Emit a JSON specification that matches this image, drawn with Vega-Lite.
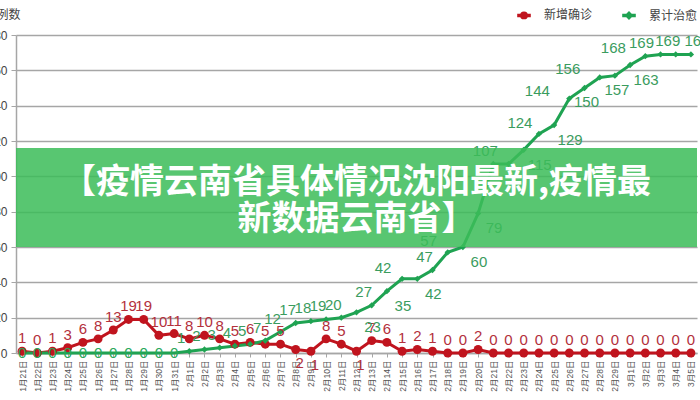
{
  "$schema": "https://vega.github.io/schema/vega-lite/v6.json",
  "width": 681,
  "height": 318,
  "autosize": {"type": "none"},
  "padding": {"left": 16, "top": 35, "right": 3, "bottom": 47},
  "background": "white",
  "config": {
    "view": {"stroke": null},
    "font": "Liberation Sans, Noto Sans CJK SC",
    "text": {"font": "Liberation Sans, Noto Sans CJK SC"}
  },
  "datasets": {
    "main": [
      {"d": "1月21日", "新增确诊": 1, "累计治愈": 0},
      {"d": "1月22日", "新增确诊": 0, "累计治愈": 0},
      {"d": "1月23日", "新增确诊": 1, "累计治愈": 0},
      {"d": "1月24日", "新增确诊": 3, "累计治愈": 0},
      {"d": "1月25日", "新增确诊": 6, "累计治愈": 0},
      {"d": "1月26日", "新增确诊": 8, "累计治愈": 0},
      {"d": "1月27日", "新增确诊": 13, "累计治愈": 0},
      {"d": "1月28日", "新增确诊": 19, "累计治愈": 0},
      {"d": "1月29日", "新增确诊": 19, "累计治愈": 0},
      {"d": "1月30日", "新增确诊": 10, "累计治愈": 0},
      {"d": "1月31日", "新增确诊": 11, "累计治愈": 0},
      {"d": "2月1日", "新增确诊": 8, "累计治愈": 1},
      {"d": "2月2日", "新增确诊": 10, "累计治愈": 2},
      {"d": "2月3日", "新增确诊": 8, "累计治愈": 3},
      {"d": "2月4日", "新增确诊": 5, "累计治愈": 4},
      {"d": "2月5日", "新增确诊": 6, "累计治愈": 5},
      {"d": "2月6日", "新增确诊": 5, "累计治愈": 7},
      {"d": "2月7日", "新增确诊": 5, "累计治愈": 12},
      {"d": "2月8日", "新增确诊": 2, "累计治愈": 17},
      {"d": "2月9日", "新增确诊": 1, "累计治愈": 18},
      {"d": "2月10日", "新增确诊": 8, "累计治愈": 19},
      {"d": "2月11日", "新增确诊": 5, "累计治愈": 20},
      {"d": "2月12日", "新增确诊": 1, "累计治愈": 23},
      {"d": "2月13日", "新增确诊": 7, "累计治愈": 27},
      {"d": "2月14日", "新增确诊": 6, "累计治愈": 35},
      {"d": "2月15日", "新增确诊": 1, "累计治愈": 42},
      {"d": "2月16日", "新增确诊": 2, "累计治愈": 42},
      {"d": "2月17日", "新增确诊": 1, "累计治愈": 47},
      {"d": "2月18日", "新增确诊": 0, "累计治愈": 57},
      {"d": "2月19日", "新增确诊": 0, "累计治愈": 60},
      {"d": "2月20日", "新增确诊": 2, "累计治愈": 79},
      {"d": "2月21日", "新增确诊": 0, "累计治愈": 107},
      {"d": "2月22日", "新增确诊": 0, "累计治愈": 107},
      {"d": "2月23日", "新增确诊": 0, "累计治愈": 115},
      {"d": "2月24日", "新增确诊": 0, "累计治愈": 124},
      {"d": "2月25日", "新增确诊": 0, "累计治愈": 129},
      {"d": "2月26日", "新增确诊": 0, "累计治愈": 144},
      {"d": "2月27日", "新增确诊": 0, "累计治愈": 150},
      {"d": "2月28日", "新增确诊": 0, "累计治愈": 156},
      {"d": "2月29日", "新增确诊": 0, "累计治愈": 157},
      {"d": "3月1日", "新增确诊": 0, "累计治愈": 163},
      {"d": "3月2日", "新增确诊": 0, "累计治愈": 168},
      {"d": "3月3日", "新增确诊": 0, "累计治愈": 169},
      {"d": "3月4日", "新增确诊": 0, "累计治愈": 169},
      {"d": "3月5日", "新增确诊": 0, "累计治愈": 169}
    ],
    "banner": [
      {"t": "【疫情云南省具体情况沈阳最新,疫情最\n新数据云南省】"}
    ]
  },
  "encoding": {
    "x": {
      "field": "d",
      "type": "ordinal",
      "sort": null,
      "scale": {"type": "point", "padding": 0.4},
      "axis": {
        "title": null,
        "labelAngle": -90,
        "labelFontSize": 8.5,
        "labelColor": "#555555",
        "labelPadding": 3,
        "domainColor": "#a6a6a6",
        "domainWidth": 1.5,
        "tickColor": "#a6a6a6",
        "tickSize": 4,
        "grid": false
      }
    },
    "y": {
      "type": "quantitative",
      "scale": {"domain": [0, 180], "nice": false},
      "axis": {
        "title": "例数",
        "titleAngle": 0,
        "titleAlign": "left",
        "titleBaseline": "middle",
        "titleX": -20,
        "titleY": -21,
        "titleFontSize": 12,
        "titleFontWeight": "normal",
        "titleColor": "#444444",
        "titleFont": "Noto Sans CJK SC",
        "values": [0, 20, 40, 60, 80, 100, 120, 140, 160, 180],
        "labelFontSize": 12,
        "labelColor": "#444444",
        "labelPadding": 4,
        "gridColor": "#a6a6a6",
        "gridWidth": 1.5,
        "domainColor": "#a6a6a6",
        "domainWidth": 1.5,
        "tickColor": "#a6a6a6",
        "tickSize": 5
      }
    }
  },
  "layer": [
    {
      "data": {"name": "main"},
      "transform": [{"fold": ["新增确诊", "累计治愈"], "as": ["series", "v"]}],
      "mark": {"type": "line", "strokeWidth": 3},
      "encoding": {
        "y": {"field": "v"},
        "color": {
          "field": "series",
          "type": "nominal",
          "scale": {"domain": ["新增确诊", "累计治愈"], "range": ["#c0141e", "#1fa352"]},
          "legend": {
            "title": null,
            "orient": "none",
            "legendX": 502,
            "legendY": -26,
            "direction": "horizontal",
            "labelFont": "Noto Sans CJK SC",
            "labelFontSize": 12,
            "labelColor": "#444444",
            "columnPadding": 22,
            "symbolSize": 64,
            "symbolStrokeWidth": 3.5,
            "symbolType": "M-1.7,0L1.7,0M-0.5,0A0.5,0.5 0 1,1 0.5,0A0.5,0.5 0 1,1 -0.5,0Z",
            "labelOffset": 14,
            "encode": {
              "symbols": {
                "update": {
                  "shape": {"signal": "datum.value == '新增确诊' ? 'M-1.7,0L1.7,0M-0.55,0A0.55,0.55 0 1,1 0.55,0A0.55,0.55 0 1,1 -0.55,0Z' : 'M-1.7,0L1.7,0M0,-0.5L0.5,0L0,0.5L-0.5,0Z'"},
                  "stroke": {"signal": "datum.value == '新增确诊' ? '#c0141e' : '#1fa352'"},
                  "fill": {"signal": "datum.value == '新增确诊' ? '#c0141e' : '#1fa352'"},
                  "strokeWidth": {"value": 3.5},
                  "opacity": {"value": 1}
                }
              }
            }
          }
        }
      }
    },
    {
      "data": {"name": "main"},
      "transform": [
        {"fold": ["新增确诊", "累计治愈"], "as": ["series", "v"]},
        {"filter": "datum.series == '新增确诊' || datum.v > 0"}
      ],
      "mark": {"type": "point", "filled": true, "opacity": 1},
      "encoding": {
        "y": {"field": "v"},
        "color": {
          "field": "series",
          "type": "nominal",
          "scale": {"domain": ["新增确诊", "累计治愈"], "range": ["#c0141e", "#1fa352"]}
        },
        "shape": {
          "condition": {"test": "datum.series == '累计治愈'", "value": "diamond"},
          "value": "circle"
        },
        "size": {
          "condition": {"test": "datum.series == '累计治愈'", "value": 40},
          "value": 80
        }
      }
    },
    {
      "data": {"name": "main"},
      "transform": [{"filter": {"not": {"field": "d", "oneOf": ["2月8日", "2月9日", "2月12日"]}}}],
      "mark": {"type": "text", "dy": -13, "fontSize": 15, "color": "#b3303c"},
      "encoding": {"y": {"field": "新增确诊"}, "text": {"field": "新增确诊"}}
    },
    {
      "data": {"name": "main"},
      "transform": [{"filter": {"field": "d", "oneOf": ["2月8日", "2月9日", "2月12日"]}}],
      "mark": {"type": "text", "dy": 14, "dx": 4, "fontSize": 15, "color": "#b3303c"},
      "encoding": {"y": {"field": "新增确诊"}, "text": {"field": "新增确诊"}}
    },
    {
      "data": {"name": "main"},
      "transform": [
        {"filter": "datum['累计治愈'] > 0"},
        {"filter": {"not": {"field": "d", "oneOf": ["2月12日", "2月14日", "2月16日", "2月19日", "2月20日", "2月23日", "2月25日", "2月27日", "2月29日", "3月1日", "2月15日", "2月18日", "2月22日", "3月3日", "2月24日", "2月26日", "2月28日", "3月2日", "3月5日"]}}}
      ],
      "mark": {"type": "text", "dy": -13, "dx": -8, "fontSize": 15, "color": "#3a9c5e"},
      "encoding": {"y": {"field": "累计治愈"}, "text": {"field": "累计治愈"}}
    },
    {
      "data": {"name": "main"},
      "transform": [{"filter": {"field": "d", "oneOf": ["2月15日", "2月18日", "2月24日", "3月3日"]}}],
      "mark": {"type": "text", "dy": -11, "dx": -19, "fontSize": 15, "color": "#3a9c5e"},
      "encoding": {"y": {"field": "累计治愈"}, "text": {"field": "累计治愈"}}
    },
    {
      "data": {"name": "main"},
      "transform": [{"filter": {"field": "d", "oneOf": ["2月26日", "2月28日", "3月2日"]}}],
      "mark": {"type": "text", "dy": -8, "dx": -32, "fontSize": 15, "color": "#3a9c5e"},
      "encoding": {"y": {"field": "累计治愈"}, "text": {"field": "累计治愈"}}
    },
    {
      "data": {"name": "main"},
      "transform": [{"filter": {"field": "d", "oneOf": ["3月5日"]}}],
      "mark": {"type": "text", "dy": -13, "dx": 6, "fontSize": 15, "color": "#3a9c5e"},
      "encoding": {"y": {"field": "累计治愈"}, "text": {"field": "累计治愈"}}
    },
    {
      "data": {"name": "main"},
      "transform": [
        {"filter": {"field": "d", "oneOf": ["2月12日", "2月14日", "2月16日", "2月19日", "2月20日", "2月23日", "2月25日", "3月1日"]}}
      ],
      "mark": {"type": "text", "dy": 15, "dx": 16, "fontSize": 15, "color": "#3a9c5e"},
      "encoding": {"y": {"field": "累计治愈"}, "text": {"field": "累计治愈"}}
    },
    {
      "data": {"name": "main"},
      "transform": [{"filter": {"field": "d", "oneOf": ["2月27日", "2月29日"]}}],
      "mark": {"type": "text", "dy": 14, "dx": 2, "fontSize": 15, "color": "#3a9c5e"},
      "encoding": {"y": {"field": "累计治愈"}, "text": {"field": "累计治愈"}}
    },
    {
      "data": {"name": "main"},
      "transform": [{"filter": "datum['累计治愈'] == 0"}],
      "mark": {"type": "text", "fontSize": 15, "color": "#2aa85a", "baseline": "middle"},
      "encoding": {"y": {"field": "累计治愈"}, "text": {"field": "累计治愈"}}
    },
    {
      "data": {"values": [{"top": 116, "bottom": 60}]},
      "mark": {"type": "rect", "color": "#3dbd5a", "opacity": 0.86},
      "encoding": {
        "x": null,
        "y": {"field": "top", "type": "quantitative"},
        "y2": {"field": "bottom"}
      }
    },
    {
      "data": {"name": "banner"},
      "mark": {
        "type": "text",
        "x": {"expr": "width/2"},
        "lineBreak": "\n",
        "lineHeight": 37,
        "align": "center",
        "baseline": "middle",
        "font": "Noto Sans CJK SC",
        "fontWeight": "bold",
        "fontSize": 34,
        "color": "white"
      },
      "encoding": {
        "x": null,
        "y": {"datum": 96, "type": "quantitative"},
        "text": {"field": "t"}
      }
    }
  ]
}
